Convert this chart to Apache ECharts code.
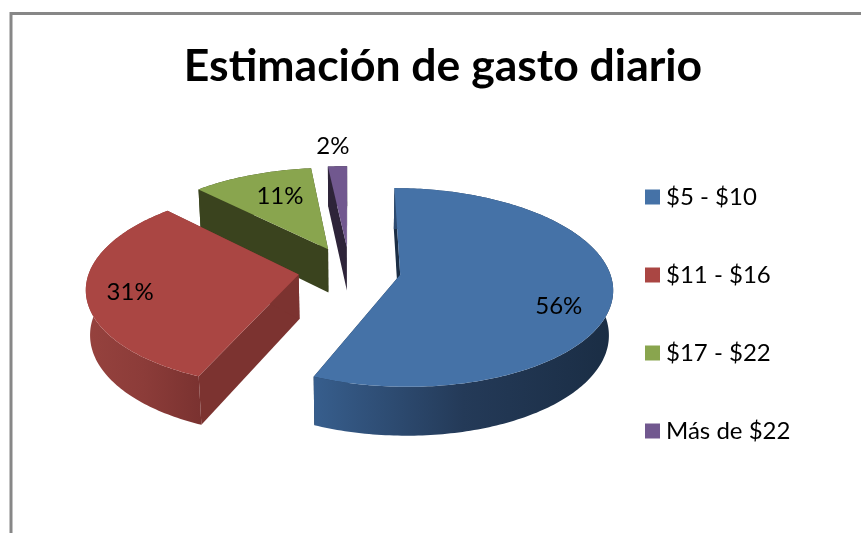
<!DOCTYPE html>
<html>
<head>
<meta charset="utf-8">
<style>html,body{margin:0;padding:0;background:#fff}#c{width:861px;height:533px}</style>
<script src="https://cdn.jsdelivr.net/npm/echarts@6/dist/echarts.min.js"></script>
</head>
<body>
<div id="c"></div>
<script>
var titleText = 'Estimación de gasto diario';
var categories = ['$5 - $10', '$11 - $16', '$17 - $22', 'Más de $22'];
var shares = [56.4, 31.2, 10.7, 1.7];

var colors = ['#4572A7', '#AA4643', '#89A54E', '#71588F'];
var cutColors = ['#1B2E45', '#7C3330', '#3A431E', '#2E2439'];
var rimStops = [
  ['#375E8D', '#243A58', '#1A2D44'],
  ['#96423E', '#8C3C39', '#7A3230'],
  ['#3A431E', '#3A431E', '#3A431E'],
  ['#2E2439', '#2E2439', '#2E2439']
];
var labelRadius = [0.75, 0.81, 0.62, 1.2];
var labelNudge = [[0, 17], [3, 3], [1, -5], [-3, -6]];

var view = {cx: 349.5, cy: 270, scale: 209, tilt: 27.5 * Math.PI / 180, k: 0.127, depth: 0.243, explode: 0.246};

function project(X, Y, Z) {
  var c = Math.cos(view.tilt), s = Math.sin(view.tilt);
  var D = c / view.k;
  var w = (D + Y * c - Z * s) / D;
  return [view.cx + view.scale * X / w, view.cy - view.scale * (Y * s + Z * c) / w];
}

var total = shares.reduce(function (a, b) { return a + b; }, 0);
function sliceAngles(i) {
  var before = 0;
  for (var j = 0; j < i; j++) before += shares[j];
  return [before / total * 2 * Math.PI, (before + shares[i]) / total * 2 * Math.PI];
}

function renderSlice(i, value) {
  var ang = sliceAngles(i), a0 = ang[0], a1 = a0 + value / total * 2 * Math.PI, mid = (a0 + a1) / 2;
  var ox = Math.sin(mid) * view.explode, oy = Math.cos(mid) * view.explode;
  var steps = Math.max(4, Math.ceil((a1 - a0) / (Math.PI / 180)));
  var topArc = [], botArc = [];
  for (var n = 0; n <= steps; n++) {
    var a = a0 + (a1 - a0) * n / steps;
    topArc.push(project(ox + Math.sin(a), oy + Math.cos(a), 0));
    botArc.push(project(ox + Math.sin(a), oy + Math.cos(a), -view.depth));
  }
  var apexT = project(ox, oy, 0), apexB = project(ox, oy, -view.depth);
  var children = [];
  function wall(points, fill) {
    children.push({type: 'polygon', shape: {points: points}, style: {fill: fill, stroke: null}});
  }
  wall([apexT, topArc[0], botArc[0], apexB], cutColors[i]);
  wall([apexT, topArc[steps], botArc[steps], apexB], cutColors[i]);
  var rim = topArc.concat(botArc.slice().reverse());
  wall(rim, new echarts.graphic.LinearGradient(0, 0, 1, 0, [
    {offset: 0, color: rimStops[i][0]},
    {offset: 0.5, color: rimStops[i][1]},
    {offset: 1, color: rimStops[i][2]}
  ]));
  wall([apexT].concat(topArc), colors[i]);
  var r = labelRadius[i];
  var lp = project(ox + Math.sin(mid) * r, oy + Math.cos(mid) * r, 0);
  children.push({
    type: 'text',
    z2: 10,
    style: {
      x: lp[0] + labelNudge[i][0], y: lp[1] + labelNudge[i][1],
      text: Math.round(value / total * 100) + '%',
      fill: '#000', font: '24px Lato', align: 'center', verticalAlign: 'middle'
    }
  });
  return {type: 'group', children: children};
}

var drawOrder = [3, 2, 1, 0];
var series = drawOrder.map(function (i) {
  return {
    type: 'custom',
    name: categories[i],
    coordinateSystem: 'none',
    silent: true,
    itemStyle: {color: colors[i]},
    data: [[shares[i]]],
    encode: {value: 0},
    renderItem: function (params, api) { return renderSlice(i, api.value(0)); }
  };
});

var chart = echarts.init(document.getElementById('c'), null, {renderer: 'canvas'});
chart.setOption({
  animation: false,
  backgroundColor: '#fff',
  title: {
    text: titleText, left: 438, top: 39, textAlign: 'center',
    textStyle: {fontFamily: 'Lato', fontWeight: 'bold', fontSize: 44.5, color: '#000'}
  },
  legend: {
    data: categories, orient: 'vertical', left: 645, top: 183,
    icon: 'rect', itemWidth: 15, itemHeight: 15, itemGap: 50, itemStyle: {borderWidth: 0},
    textStyle: {fontFamily: 'Lato', fontSize: 24, color: '#000', padding: [0, 0, 0, 1], lineHeight: 28},
    selectedMode: false, padding: 0
  },
  graphic: [{
    type: 'rect', silent: true,
    shape: {x: 11, y: 13.5, width: 950, height: 620},
    style: {fill: null, stroke: '#878787', lineWidth: 3}
  }],
  series: series
});
</script>
</body>
</html>
